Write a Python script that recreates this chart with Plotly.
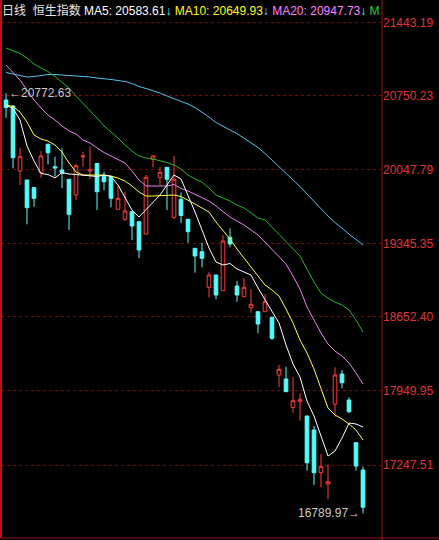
import plotly.graph_objects as go

# ---------------- data ----------------
idx = list(range(52))

opens = [20708.5, 20651.6, 20035.4, 19950.1, 19877.1, 20019.3, 20288.5, 20076.2, 20044.9, 19956.7,
         19807.9, 20168.1, 20035.4, 20106.5, 19988.0, 19981.4, 19672.3, 19577.5, 19649.6, 19554.8,
         19438.2, 20146.3, 19975.7, 20070.5, 19596.5, 19768.0, 19577.5, 19302.6, 19270.4, 18932.9,
         19049.5, 18900.7, 19406.9, 18945.2, 18843.8, 18739.5, 18701.6, 18701.6, 18648.5, 18101.5,
         18063.6, 17795.3, 17848.4, 17712.8, 17580.0, 17175.3, 17068.2, 17826.6, 18111.0, 17864.5,
         17459.8, 17201.0]
highs = [20772.63, 20661.0, 20256.3, 19950.1, 19883.0, 20225.0, 20296.0, 20171.0, 20250.6, 19960.0,
         20101.8, 20218.4, 20265.8, 20111.0, 20028.8, 19988.0, 19893.2, 19839.2, 19656.0, 19561.0,
         19997.5, 20187.0, 20076.2, 20073.3, 20177.6, 19831.6, 19580.0, 19305.0, 19355.7, 19080.8,
         19049.5, 19428.7, 19492.2, 18995.4, 19018.2, 18914.0, 18703.5, 18866.5, 18651.0, 18196.3,
         18180.2, 18079.7, 17928.0, 17717.0, 17618.0, 17352.6, 17255.0, 18174.5, 18149.0, 17890.1,
         17462.0, 17232.2]
lows = [20540.7, 20061.0, 19902.7, 19530.1, 19696.9, 19971.9, 20098.9, 19981.4, 19871.4, 19476.1,
        19760.5, 20076.2, 19956.7, 19665.7, 19855.4, 19691.3, 19672.3, 19564.3, 19381.3, 19207.8,
        19438.2, 20070.5, 19902.7, 19665.7, 19577.5, 19542.5, 19355.7, 19071.3, 19122.5, 18838.0,
        18819.1, 18900.7, 19312.1, 18796.4, 18843.8, 18692.1, 18496.8, 18701.6, 18433.3, 17985.1,
        17943.2, 17744.0, 17668.3, 17194.3, 17058.7, 17036.9, 16923.1, 17706.2, 17975.4, 17738.5,
        17194.3, 16789.97]
closes = [20635.5, 20161.5, 20171.0, 19687.5, 19776.6, 20177.6, 20208.9, 20063.9, 20013.6, 19624.9,
          20085.7, 20177.6, 20044.9, 19839.2, 19934.0, 19776.6, 19776.6, 19656.2, 19514.0, 19286.5,
          19975.7, 20177.6, 20023.1, 19956.7, 19956.7, 19613.6, 19460.0, 19229.6, 19207.8, 19049.5,
          18859.9, 19371.8, 19343.4, 18859.9, 18932.9, 18771.7, 18585.0, 18796.4, 18449.4, 18155.5,
          17943.2, 17857.9, 17871.1, 17270.0, 17175.3, 17232.2, 17090.0, 18101.5, 18028.5, 17753.6,
          17238.8, 16847.3]

ma5 = [20661.1, 20627.9, 20518.9, 20272.4, 20130.2, 20011.7, 20002.2, 19969.1, 20021.2, 20007.0,
       20002.2, 19997.5, 19988.0, 19983.3, 19997.5, 19983.3, 19902.7, 19788.9, 19665.7, 19599.3,
       19665.7, 19741.5, 19807.9, 19902.7, 19997.5, 19959.6, 19807.9, 19646.7, 19476.1, 19305.5,
       19172.7, 19144.3, 19158.5, 19106.4, 19077.9, 19049.5, 18926.3, 18812.5, 18698.7, 18594.5,
       18385.9, 18205.8, 18082.5, 17855.0, 17712.8, 17532.7, 17333.6, 17381.0, 17504.3, 17646.5,
       17637.0, 17608.5]
ma10 = [20661.1, 20646.9, 20594.7, 20499.9, 20376.7, 20338.8, 20319.8, 20281.9, 20215.5, 20111.3,
        20025.9, 19997.5, 19997.5, 19997.5, 19997.5, 19988.0, 19969.1, 19940.6, 19893.2, 19836.3,
        19798.4, 19798.4, 19803.2, 19807.9, 19807.9, 19793.7, 19760.5, 19722.6, 19684.7, 19646.7,
        19551.9, 19476.1, 19390.8, 19296.0, 19210.7, 19125.3, 19040.0, 18954.7, 18907.3, 18850.4,
        18727.2, 18594.5, 18433.3, 18310.1, 18158.4, 17978.3, 17788.7, 17722.3, 17684.4, 17637.0,
        17580.1, 17485.3]
ma20 = [21040.3, 20969.2, 20898.1, 20803.3, 20708.5, 20632.7, 20566.3, 20518.9, 20462.0, 20414.6,
        20386.2, 20329.3, 20300.9, 20253.5, 20210.8, 20177.6, 20144.4, 20111.3, 20035.4, 19950.1,
        19893.2, 19893.2, 19893.2, 19893.2, 19907.4, 19869.5, 19845.8, 19812.6, 19779.5, 19751.0,
        19703.6, 19651.5, 19599.3, 19561.4, 19523.5, 19476.1, 19428.7, 19362.3, 19296.0, 19229.6,
        19153.8, 19040.0, 18916.8, 18746.1, 18622.9, 18499.7, 18395.4, 18329.0, 18281.6, 18215.3,
        18120.5, 18016.2]
ma30 = [21201.5, 21173.0, 21149.3, 21106.7, 21049.8, 21011.9, 20978.7, 20931.3, 20879.1, 20822.3,
        20746.4, 20680.1, 20604.2, 20537.9, 20462.0, 20405.1, 20348.3, 20281.9, 20225.0, 20177.6,
        20158.7, 20149.2, 20135.0, 20116.0, 20092.3, 20054.4, 19997.5, 19959.6, 19931.1, 19874.3,
        19807.9, 19779.5, 19751.0, 19713.1, 19684.7, 19637.3, 19589.9, 19570.9, 19504.5, 19438.2,
        19371.8, 19296.0, 19229.6, 19106.4, 18983.1, 18878.9, 18831.5, 18793.5, 18765.1, 18717.7,
        18622.9, 18509.1]
ma60 = [20969.2, 20955.0, 20936.0, 20926.5, 20931.3, 20940.8, 20950.2, 20950.2, 20945.5, 20940.8,
        20940.8, 20936.0, 20926.5, 20917.1, 20912.3, 20902.8, 20893.4, 20883.9, 20864.9, 20836.5,
        20817.5, 20798.6, 20774.9, 20746.4, 20722.7, 20694.3, 20670.6, 20637.4, 20594.7, 20547.3,
        20495.2, 20457.3, 20424.1, 20390.9, 20348.3, 20305.6, 20258.2, 20201.3, 20139.7, 20082.8,
        20021.2, 19950.1, 19888.5, 19817.4, 19746.3, 19675.2, 19608.8, 19547.2, 19490.3, 19438.2,
        19386.0, 19333.9]

tick_vals = [21443.19, 20750.23, 20047.79, 19345.35, 18652.40, 17949.95, 17247.51]
tick_text = ["21443.19", "20750.23", "20047.79", "19345.35", "18652.40", "17949.95", "17247.51"]

title_cn = "日线\u00a0\u00a0恒生指数"
ma_labels = [("MA5: 20583.61", "#ffffff"), ("MA10: 20649.93", "#ffff00"), ("MA20: 20947.73", "#ff80ff")]
hi_text = "20772.63"
lo_text = "16789.97"

# ---------------- layout constants ----------------
W, H = 439, 540
ML, MR, MT, MB = 1, 57, 0, 2
PW = W - ML - MR
PH = H - MT - MB
X_RANGE = [-0.714, -0.714 + PW / 7.0]
Y_TOP = 21656.5
Y_RANGE = [Y_TOP - 9.48 * PH, Y_TOP]

UP = "#ff3c3c"
DOWN = "#54fcfc"
FONT = "Arial, 'Liberation Sans', 'Noto Sans CJK SC', sans-serif"

fig = go.Figure()
fig.add_trace(go.Candlestick(
    x=idx, open=opens, high=highs, low=lows, close=closes,
    increasing=dict(line=dict(color=UP, width=1), fillcolor="#000000"),
    decreasing=dict(line=dict(color=DOWN, width=1), fillcolor=DOWN),
    whiskerwidth=0, hoverinfo="skip", showlegend=False))

for vals, color in [(ma60, "#4cc4ec"), (ma30, "#22b822"), (ma20, "#ee82ee"),
                    (ma10, "#ffff30"), (ma5, "#ffffff")]:
    fig.add_trace(go.Scatter(x=idx, y=vals, mode="lines", line=dict(color=color, width=1),
                             hoverinfo="skip", showlegend=False))

# header, clipped at the plot edge
header = '<span style="color:#e8e8e8">' + title_cn + '</span>\u00a0'
for lab, col in ma_labels:
    header += '<span style="color:%s">%s</span><span style="color:%s">↓</span>\u00a0' % (col, lab, DOWN)
header += '<span style="color:#22d022">M</span>'
hx = X_RANGE[0] + 1 / 7.0
hy = Y_TOP - 9.48 * 12
fig.add_trace(go.Scatter(x=[hx], y=[hy], mode="text", text=[header], textposition="middle right",
                         textfont=dict(size=12, family=FONT), cliponaxis=True,
                         hoverinfo="skip", showlegend=False))

fig.add_annotation(x=0, y=max(highs), xref="x", yref="y", text="←" + hi_text,
                   showarrow=False, xanchor="left", yanchor="middle", xshift=1,
                   font=dict(size=12, color="#c8c8c8", family=FONT))
fig.add_annotation(x=51, y=min(lows), xref="x", yref="y", text=lo_text + "→",
                   showarrow=False, xanchor="right", yanchor="middle", xshift=-1,
                   font=dict(size=12, color="#c8c8c8", family=FONT))

BORDER = "#9a1010"
fig.add_shape(type="line", xref="paper", yref="paper", x0=0, x1=0, y0=0, y1=1,
              line=dict(color="#c01010", width=2))
fig.add_shape(type="line", xref="paper", yref="paper", x0=1, x1=1, y0=-MB / PH, y1=1,
              line=dict(color=BORDER, width=1))
fig.add_shape(type="line", xref="paper", yref="paper", x0=0, x1=(W - ML) / PW, y0=0, y1=0,
              line=dict(color=BORDER, width=1))

fig.update_layout(
    width=W, height=H, margin=dict(l=ML, r=MR, t=MT, b=MB),
    paper_bgcolor="#000000", plot_bgcolor="#000000", showlegend=False,
    boxgap=0.25,
    xaxis=dict(range=X_RANGE, showgrid=False, zeroline=False, showticklabels=False,
               rangeslider=dict(visible=False), fixedrange=True),
    yaxis=dict(range=Y_RANGE, side="right", tickvals=tick_vals, ticktext=tick_text,
               tickfont=dict(size=12, color="#e03434", family=FONT),
               showgrid=True, gridcolor="#8a0000", griddash="dot", gridwidth=1,
               zeroline=False, ticks="", fixedrange=True),
)

fig.write_html("out.html", config={"displayModeBar": False},
               post_script="document.body.style.margin='0';document.body.style.background='#000';")
